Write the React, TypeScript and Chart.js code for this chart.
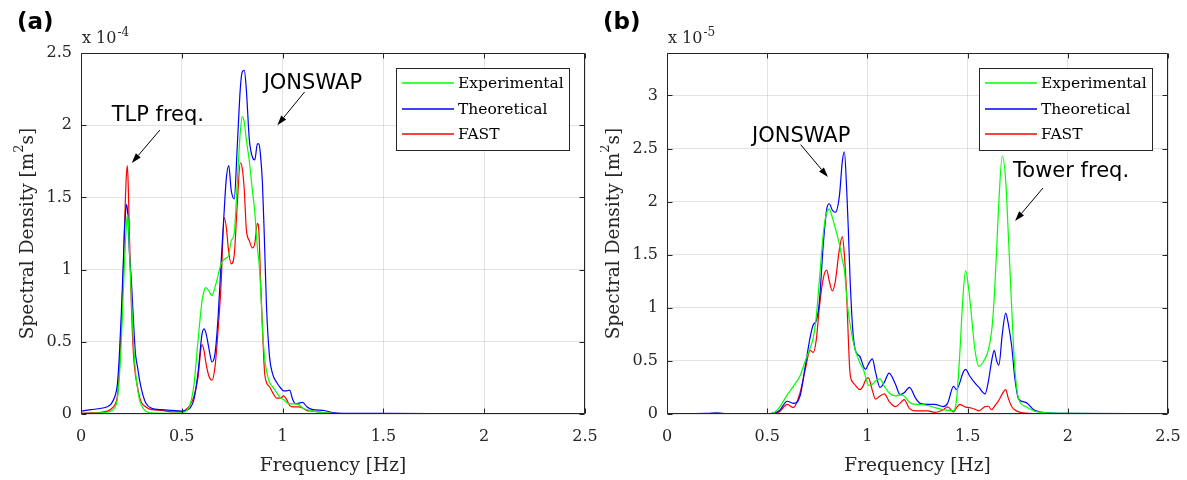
import React, { useEffect, useRef } from 'react';
import { Chart, registerables } from 'chart.js';
Chart.register(...registerables);

// ---------- DATA ----------
const seriesLabels = ['Experimental', 'Theoretical', 'FAST'];
const seriesColors = ['#00ff00', '#0000ff', '#ff0000'];
const freqTicks = [0, 0.5, 1, 1.5, 2, 2.5];

// Panel (a)  values in units of 1e-4 m^2 s
const freqA = [0, 0.05, 0.1, 0.13, 0.15, 0.17, 0.18, 0.19, 0.2, 0.21, 0.215, 0.22, 0.225, 0.23, 0.235, 0.24, 0.25, 0.26, 0.27, 0.28, 0.29, 0.3, 0.32, 0.35, 0.4, 0.45, 0.5, 0.52, 0.54, 0.56, 0.58, 0.6, 0.61, 0.62, 0.635, 0.65, 0.665, 0.68, 0.695, 0.71, 0.72, 0.733, 0.745, 0.76, 0.775, 0.79, 0.8, 0.81, 0.82, 0.835, 0.85, 0.862, 0.875, 0.883, 0.89, 0.9, 0.91, 0.92, 0.935, 0.95, 0.97, 0.99, 1.005, 1.02, 1.035, 1.05, 1.065, 1.08, 1.1, 1.12, 1.15, 1.2, 1.25, 1.3, 1.5, 2.0, 2.5];
const expA = [0.005, 0.005, 0.008, 0.012, 0.02, 0.05, 0.1, 0.25, 0.5, 0.85, 1.02, 1.18, 1.3, 1.38, 1.33, 1.15, 0.8, 0.5, 0.3, 0.18, 0.1, 0.06, 0.02, 0.008, 0.005, 0.005, 0.01, 0.02, 0.06, 0.2, 0.5, 0.78, 0.85, 0.875, 0.85, 0.82, 0.88, 0.96, 1.04, 1.07, 1.08, 1.1, 1.2, 1.25, 1.6, 1.95, 2.06, 2.02, 1.9, 1.75, 1.55, 1.4, 1.15, 1.05, 0.9, 0.6, 0.4, 0.3, 0.22, 0.19, 0.15, 0.11, 0.1, 0.08, 0.07, 0.07, 0.07, 0.065, 0.04, 0.03, 0.02, 0.01, 0.005, 0.003, 0.002, 0.001, 0.001];
const theoA = [0.02, 0.03, 0.04, 0.05, 0.07, 0.13, 0.2, 0.4, 0.7, 1.05, 1.25, 1.38, 1.45, 1.42, 1.3, 1.12, 0.92, 0.65, 0.42, 0.33, 0.24, 0.17, 0.08, 0.04, 0.03, 0.025, 0.02, 0.025, 0.04, 0.1, 0.28, 0.55, 0.59, 0.56, 0.45, 0.36, 0.42, 0.67, 1.05, 1.4, 1.62, 1.72, 1.55, 1.49, 1.85, 2.25, 2.37, 2.38, 2.25, 1.9, 1.78, 1.76, 1.87, 1.87, 1.8, 1.6, 1.2, 0.75, 0.4, 0.28, 0.22, 0.18, 0.16, 0.16, 0.165, 0.1, 0.07, 0.075, 0.08, 0.05, 0.03, 0.025, 0.01, 0.005, 0.004, 0.001, 0.001];
const fastA = [0.005, 0.008, 0.012, 0.02, 0.035, 0.07, 0.12, 0.3, 0.6, 1.0, 1.25, 1.48, 1.65, 1.72, 1.55, 1.25, 0.75, 0.42, 0.27, 0.19, 0.12, 0.08, 0.05, 0.03, 0.025, 0.015, 0.015, 0.03, 0.06, 0.12, 0.25, 0.48, 0.44, 0.35, 0.26, 0.235, 0.33, 0.58, 0.9, 1.36, 1.3, 1.12, 1.04, 1.1, 1.45, 1.74, 1.7, 1.55, 1.28, 1.2, 1.15, 1.18, 1.32, 1.25, 0.95, 0.6, 0.3, 0.22, 0.19, 0.15, 0.11, 0.11, 0.125, 0.1, 0.06, 0.05, 0.05, 0.05, 0.04, 0.025, 0.02, 0.01, 0.005, 0.003, 0.002, 0.001, 0.001];
const yTicksA = [0, 0.5, 1, 1.5, 2, 2.5];

// Panel (b)  values in units of 1e-5 m^2 s
const freqB = [0, 0.2, 0.25, 0.3, 0.5, 0.53, 0.56, 0.6, 0.63, 0.664, 0.69, 0.714, 0.73, 0.745, 0.76, 0.78, 0.797, 0.81, 0.825, 0.84, 0.86, 0.875, 0.885, 0.897, 0.905, 0.913, 0.927, 0.94, 0.963, 0.98, 0.991, 1.005, 1.025, 1.04, 1.063, 1.085, 1.108, 1.14, 1.163, 1.183, 1.21, 1.24, 1.263, 1.3, 1.337, 1.378, 1.4, 1.43, 1.445, 1.462, 1.475, 1.49, 1.51, 1.537, 1.557, 1.587, 1.603, 1.62, 1.633, 1.645, 1.656, 1.673, 1.69, 1.703, 1.72, 1.735, 1.755, 1.79, 1.83, 1.9, 2.0, 2.5];
const expB = [0.003, 0.003, 0.005, 0.003, 0.003, 0.01, 0.06, 0.18, 0.26, 0.36, 0.5, 0.62, 0.72, 0.92, 1.25, 1.7, 1.9, 1.93, 1.85, 1.75, 1.6, 1.45, 1.36, 1.1, 0.95, 0.85, 0.7, 0.6, 0.48, 0.42, 0.35, 0.27, 0.28, 0.31, 0.33, 0.26, 0.2, 0.17, 0.18, 0.17, 0.11, 0.09, 0.09, 0.08, 0.06, 0.04, 0.035, 0.03, 0.14, 0.6, 1.05, 1.35, 1.1, 0.6, 0.45, 0.52, 0.6, 0.78, 1.1, 1.55, 2.0, 2.43, 2.2, 1.7, 1.0, 0.45, 0.14, 0.07, 0.03, 0.01, 0.005, 0.002];
const theoB = [0.003, 0.005, 0.01, 0.003, 0.003, 0.008, 0.03, 0.12, 0.1, 0.17, 0.45, 0.72, 0.84, 0.88, 1.05, 1.6, 1.93, 1.98, 1.92, 1.9, 2.05, 2.38, 2.47, 2.1, 1.73, 1.3, 0.79, 0.6, 0.54, 0.45, 0.42, 0.47, 0.52, 0.4, 0.25, 0.3, 0.385, 0.28, 0.183, 0.2, 0.25, 0.15, 0.1, 0.09, 0.09, 0.07, 0.1, 0.26, 0.23, 0.3, 0.38, 0.42, 0.36, 0.29, 0.25, 0.19, 0.3, 0.5, 0.6, 0.5, 0.46, 0.75, 0.95, 0.85, 0.64, 0.35, 0.14, 0.11, 0.04, 0.01, 0.005, 0.002];
const fastB = [0.003, 0.003, 0.005, 0.003, 0.003, 0.005, 0.02, 0.09, 0.06, 0.2, 0.42, 0.6, 0.58, 0.7, 1.0, 1.28, 1.355, 1.25, 1.16, 1.25, 1.55, 1.67, 1.5, 1.1, 0.7, 0.39, 0.3, 0.27, 0.23, 0.27, 0.32, 0.34, 0.22, 0.14, 0.17, 0.19, 0.12, 0.07, 0.1, 0.136, 0.05, 0.03, 0.03, 0.03, 0.015, 0.04, 0.067, 0.02, 0.06, 0.09, 0.08, 0.065, 0.06, 0.045, 0.03, 0.07, 0.073, 0.04, 0.07, 0.1, 0.13, 0.19, 0.23, 0.15, 0.07, 0.04, 0.02, 0.008, 0.004, 0.002, 0.002, 0.002];
const yTicksB = [0, 0.5, 1, 1.5, 2, 2.5, 3];

// ---------- STYLE ----------
const SERIF = '"DejaVu Serif", serif';
const SANS = '"DejaVu Sans", sans-serif';
const AX = '#262626';

type Note = { text: string; fx: number; fy: number; from: [number, number]; to: [number, number] };

type PanelCfg = {
  tag: string;
  exponent: string;
  yMax: number;
  yTicks: number[];
  freq: number[];
  series: number[][];
  notes: Note[];
};

const panelA: PanelCfg = {
  tag: '(a)', exponent: '-4', yMax: 2.5, yTicks: yTicksA, freq: freqA,
  series: [expA, theoA, fastA],
  notes: [
    { text: 'TLP freq.', fx: 0.152, fy: 2.03, from: [0.391, 1.966], to: [0.252, 1.738] },
    { text: 'JONSWAP', fx: 0.906, fy: 2.248, from: [1.109, 2.23], to: [0.974, 2.0] },
  ],
};
const panelB: PanelCfg = {
  tag: '(b)', exponent: '-5', yMax: 3.4, yTicks: yTicksB, freq: freqB,
  series: [expB, theoB, fastB],
  notes: [
    { text: 'JONSWAP', fx: 0.424, fy: 2.559, from: [0.667, 2.537], to: [0.803, 2.231] },
    { text: 'Tower freq.', fx: 1.727, fy: 2.228, from: [1.876, 2.128], to: [1.737, 1.818] },
  ],
};

function makeDecor(cfg: PanelCfg) {
  return {
    id: 'decor',
    afterDatasetsDraw(chart: any) {
      const ctx: CanvasRenderingContext2D = chart.ctx;
      const a = chart.chartArea;
      const xs = chart.scales.x;
      const ys = chart.scales.y;
      ctx.save();

      // annotations with arrows
      ctx.fillStyle = '#000';
      ctx.strokeStyle = '#000';
      ctx.lineWidth = 1;
      ctx.font = '21px ' + SANS;
      ctx.textAlign = 'left';
      ctx.textBaseline = 'alphabetic';
      cfg.notes.forEach((n) => {
        ctx.fillText(n.text, xs.getPixelForValue(n.fx), ys.getPixelForValue(n.fy));
        const x1 = xs.getPixelForValue(n.from[0]);
        const y1 = ys.getPixelForValue(n.from[1]);
        const x2 = xs.getPixelForValue(n.to[0]);
        const y2 = ys.getPixelForValue(n.to[1]);
        const ang = Math.atan2(y2 - y1, x2 - x1);
        const hl = 10, hw = 3.2;
        const bx = x2 - hl * Math.cos(ang), by = y2 - hl * Math.sin(ang);
        ctx.beginPath();
        ctx.moveTo(x1, y1);
        ctx.lineTo(bx, by);
        ctx.stroke();
        ctx.beginPath();
        ctx.moveTo(x2, y2);
        ctx.lineTo(bx + hw * Math.sin(ang), by - hw * Math.cos(ang));
        ctx.lineTo(bx - hw * Math.sin(ang), by + hw * Math.cos(ang));
        ctx.closePath();
        ctx.fill();
      });

      // legend
      const lx = Math.round(a.right) - 189, ly = Math.round(a.top) + 15, lw = 173, lh = 82;
      ctx.fillStyle = '#fff';
      ctx.fillRect(lx, ly, lw, lh);
      ctx.strokeStyle = AX;
      ctx.lineWidth = 1;
      ctx.strokeRect(lx + 0.5, ly + 0.5, lw, lh);
      ctx.font = '15.5px ' + SERIF;
      ctx.textBaseline = 'middle';
      chart.data.datasets.forEach((ds: any, i: number) => {
        const yy = ly + 15 + Math.round(i * 25.7);
        ctx.strokeStyle = ds.borderColor;
        ctx.lineWidth = 1.3;
        ctx.beginPath();
        ctx.moveTo(lx + 6, yy);
        ctx.lineTo(lx + 58, yy);
        ctx.stroke();
        ctx.fillStyle = '#000';
        ctx.fillText(ds.label, lx + 62, yy + 1);
      });

      // box + inward ticks
      ctx.strokeStyle = AX;
      ctx.lineWidth = 1;
      const L = Math.round(a.left) + 0.5, R = Math.round(a.right) - 0.5;
      const T = Math.round(a.top) + 0.5, B = Math.round(a.bottom) - 0.5;
      ctx.beginPath();
      ctx.rect(L, T, R - L, B - T);
      xs.ticks.forEach((t: any) => {
        const px = Math.round(xs.getPixelForValue(t.value)) + 0.5;
        ctx.moveTo(px, B); ctx.lineTo(px, B - 5);
        ctx.moveTo(px, T); ctx.lineTo(px, T + 5);
      });
      ys.ticks.forEach((t: any) => {
        const py = Math.round(ys.getPixelForValue(t.value)) + 0.5;
        ctx.moveTo(L, py); ctx.lineTo(L + 5, py);
        ctx.moveTo(R, py); ctx.lineTo(R - 5, py);
      });
      ctx.stroke();

      // exponent label
      ctx.fillStyle = AX;
      ctx.textBaseline = 'alphabetic';
      ctx.font = '16px ' + SERIF;
      const ex = a.left + 1, ey = a.top - 10;
      ctx.fillText('x 10', ex, ey);
      const w10 = ctx.measureText('x 10').width;
      ctx.font = '12px ' + SERIF;
      ctx.fillText(cfg.exponent, ex + w10 + 1, ey - 7);

      // panel tag
      ctx.fillStyle = '#000';
      ctx.font = 'bold 23px ' + SANS;
      ctx.fillText(cfg.tag, a.left - 64, 29);

      // x axis title
      ctx.fillStyle = AX;
      ctx.font = '18.5px ' + SERIF;
      ctx.textAlign = 'center';
      ctx.fillText('Frequency [Hz]', (a.left + a.right) / 2, 471);

      // y axis title with superscript
      const p1 = 'Spectral Density [m', sup = '2', p3 = 's]';
      ctx.font = '18.5px ' + SERIF;
      const w1 = ctx.measureText(p1).width, w3 = ctx.measureText(p3).width;
      ctx.font = '13px ' + SERIF;
      const ws = ctx.measureText(sup).width;
      const W = w1 + ws + w3;
      ctx.translate(a.left - 48, (a.top + a.bottom) / 2);
      ctx.rotate(-Math.PI / 2);
      ctx.textAlign = 'left';
      ctx.font = '18.5px ' + SERIF;
      ctx.fillText(p1, -W / 2, 0);
      ctx.fillText(p3, -W / 2 + w1 + ws, 0);
      ctx.font = '13px ' + SERIF;
      ctx.fillText(sup, -W / 2 + w1, -10);

      ctx.restore();
    },
  };
}

function Panel({ cfg, left, width, yAxisWidth, padRight }: { cfg: PanelCfg; left: number; width: number; yAxisWidth: number; padRight: number }) {
  const ref = useRef<HTMLCanvasElement | null>(null);
  useEffect(() => {
    if (!ref.current) return;
    const datasets = cfg.series.map((vals, i) => ({
      label: seriesLabels[i],
      data: cfg.freq.map((f, j) => ({ x: f, y: vals[j] })),
      borderColor: seriesColors[i],
      backgroundColor: seriesColors[i],
      borderWidth: 1.2,
      pointRadius: 0,
      fill: false,
      cubicInterpolationMode: 'monotone' as const,
    }));
    const fmt = (v: any) => String(Number(v));
    const chart = new Chart(ref.current, {
      type: 'line',
      data: { datasets },
      options: {
        responsive: false,
        animation: false,
        events: [],
        layout: { padding: { left: 0, top: 53, right: padRight, bottom: 0 } },
        plugins: { legend: { display: false }, tooltip: { enabled: false } },
        scales: {
          x: {
            type: 'linear',
            min: 0,
            max: 2.5,
            afterFit: (s: any) => { s.height = 66; s.paddingLeft = 0; s.paddingRight = 0; },
            afterBuildTicks: (s: any) => { s.ticks = freqTicks.map((v) => ({ value: v })); },
            grid: { color: 'rgba(38,38,38,0.13)', drawTicks: false, lineWidth: 1 },
            border: { display: false },
            ticks: { padding: 13, color: AX, font: { family: SERIF, size: 16 }, maxRotation: 0, autoSkip: false, callback: fmt },
          },
          y: {
            type: 'linear',
            min: 0,
            max: cfg.yMax,
            afterFit: (s: any) => { s.width = yAxisWidth; s.paddingTop = 0; s.paddingBottom = 0; },
            afterBuildTicks: (s: any) => { s.ticks = cfg.yTicks.map((v) => ({ value: v })); },
            grid: { color: 'rgba(38,38,38,0.13)', drawTicks: false, lineWidth: 1 },
            border: { display: false },
            ticks: { padding: 9, color: AX, font: { family: SERIF, size: 16 }, autoSkip: false, callback: fmt },
          },
        },
      },
      plugins: [makeDecor(cfg)],
    });
    return () => chart.destroy();
  }, [cfg]);
  return (
    <canvas
      ref={ref}
      width={width}
      height={480}
      style={{ position: 'absolute', left, top: 0, width, height: 480 }}
    />
  );
}

export default function App() {
  return (
    <div style={{ position: 'fixed', left: 0, top: 0, width: 1187, height: 480, background: '#fff', overflow: 'hidden' }}>
      <Panel cfg={panelA} left={0} width={600} yAxisWidth={81} padRight={15} />
      <Panel cfg={panelB} left={600} width={587} yAxisWidth={67} padRight={19} />
    </div>
  );
}
